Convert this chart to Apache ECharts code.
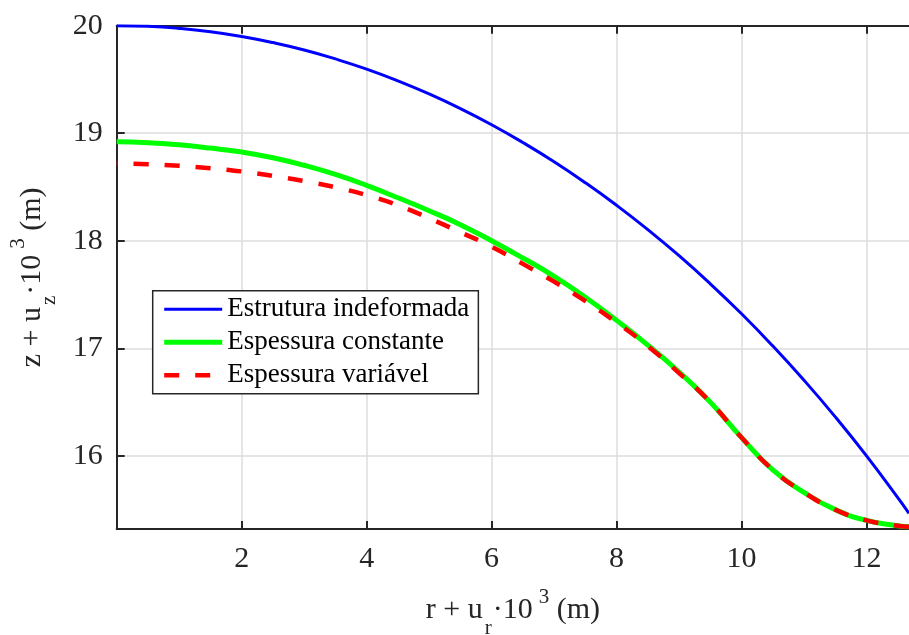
<!DOCTYPE html>
<html>
<head>
<meta charset="utf-8">
<script src="https://cdn.jsdelivr.net/npm/echarts@6/dist/echarts.min.js"></script>
<style>
  html, body { margin: 0; padding: 0; background: #ffffff; }
  #chart { width: 909px; height: 635px; }
</style>
</head>
<body>
<div id="chart"></div>
<script>
// Radial coordinate r + u_r·10^3 (m) of each sampled point
const radii = [0, 0.5, 1, 1.5, 2, 2.5, 3, 3.5, 4, 4.5, 5, 5.5, 6, 6.5, 7, 7.5, 8, 8.5, 9, 9.5, 10, 10.5, 11, 11.5, 12, 12.5, 12.68];

// Height z + u_z·10^3 (m) of each profile
const zUndeformed = [20.000, 19.994, 19.975, 19.944, 19.900, 19.843, 19.774, 19.691, 19.596, 19.487, 19.365, 19.229, 19.079, 18.914, 18.735, 18.540, 18.330, 18.104, 17.861, 17.600, 17.321, 17.022, 16.703, 16.363, 16.000, 15.612, 15.466];
const zConstant   = [18.920, 18.912, 18.892, 18.862, 18.825, 18.772, 18.702, 18.617, 18.515, 18.400, 18.280, 18.150, 18.000, 17.840, 17.670, 17.475, 17.260, 17.030, 16.780, 16.500, 16.170, 15.870, 15.660, 15.500, 15.400, 15.350, 15.340];
const zVariable   = [18.720, 18.712, 18.697, 18.675, 18.645, 18.603, 18.555, 18.497, 18.425, 18.330, 18.210, 18.080, 17.945, 17.785, 17.620, 17.440, 17.240, 17.020, 16.770, 16.500, 16.170, 15.870, 15.660, 15.500, 15.400, 15.350, 15.340];

const seriesNames = ['Estrutura indeformada', 'Espessura constante', 'Espessura variável'];
const xTicks = [2, 4, 6, 8, 10, 12];
const yTicks = [16, 17, 18, 19, 20];
const xRange = [0, 12.68];
const yRange = [15.32, 20];

const axisColor = '#262626';
const gridColor = '#dcdcdc';
const serif = 'Liberation Serif, Times New Roman, serif';

function toPairs(ys) {
  return radii.map((r, i) => [r, ys[i]]);
}

// Axis titles: main text, subscript and superscript sit in one 56px line box
const titleRich = {
  t:   { fontFamily: serif, fontSize: 30, color: axisColor, lineHeight: 56, verticalAlign: 'middle' },
  sub: { fontFamily: serif, fontSize: 21, color: axisColor, lineHeight: 21, verticalAlign: 'bottom', padding: [0, 1, 0, 2] },
  sup: { fontFamily: serif, fontSize: 21, color: axisColor, lineHeight: 21, verticalAlign: 'top', padding: [4, 0, 0, 6] }
};

const chart = echarts.init(document.getElementById('chart'), null, { renderer: 'canvas' });

const tickLabelStyle = { fontFamily: serif, fontSize: 30, color: axisColor };

chart.setOption({
  animation: false,
  backgroundColor: '#ffffff',
  grid: { left: 116.7, top: 25.7, right: 0, bottom: 106, containLabel: false, outerBoundsMode: 'none' },
  legend: {
    orient: 'vertical',
    left: 152.7,
    top: 290.7,
    padding: [5, 9, 5, 9],
    itemGap: 6,
    itemWidth: 58,
    itemHeight: 12,
    backgroundColor: '#ffffff',
    borderColor: axisColor,
    borderWidth: 1.5,
    borderRadius: 0,
    itemStyle: { opacity: 0 },
    lineStyle: { width: 'inherit', dashOffset: 0 },
    textStyle: { fontFamily: serif, fontSize: 27, lineHeight: 27, color: '#000000' },
    data: seriesNames
  },
  xAxis: [
    {
      type: 'value',
      position: 'bottom',
      min: xRange[0],
      max: xRange[1],
      name: '{t|r + u}{sub|r}{t|·10}{sup|3}{t| (m)}',
      nameLocation: 'middle',
      nameGap: 53.5,
      nameTextStyle: { rich: titleRich },
      axisLine: { show: true, onZero: false, lineStyle: { color: axisColor, width: 2 } },
      axisTick: { show: true, inside: true, length: 8, customValues: xTicks, lineStyle: { color: axisColor, width: 2 } },
      axisLabel: { show: true, margin: 15, customValues: xTicks, ...tickLabelStyle },
      splitLine: { show: true, lineStyle: { color: gridColor, width: 1.5 } }
    },
    {
      type: 'value',
      position: 'top',
      min: xRange[0],
      max: xRange[1],
      axisLine: { show: true, onZero: false, lineStyle: { color: axisColor, width: 2 } },
      axisTick: { show: true, inside: true, length: 8, customValues: xTicks, lineStyle: { color: axisColor, width: 2 } },
      axisLabel: { show: false },
      splitLine: { show: false }
    }
  ],
  yAxis: {
    type: 'value',
    position: 'left',
    min: yRange[0],
    max: yRange[1],
    name: '{t|z + u}{sub|z}{t|·10}{sup|3}{t| (m)}',
    nameLocation: 'middle',
    nameRotate: 90,
    nameGap: 57,
    nameTextStyle: { rich: titleRich },
    axisLine: { show: true, onZero: false, lineStyle: { color: axisColor, width: 2 } },
    axisTick: { show: true, inside: true, length: 8, customValues: yTicks, lineStyle: { color: axisColor, width: 2 } },
    axisLabel: { show: true, margin: 14, customValues: yTicks, ...tickLabelStyle },
    splitLine: { show: true, lineStyle: { color: gridColor, width: 1.5 } }
  },
  series: [
    {
      name: seriesNames[0],
      type: 'line',
      data: toPairs(zUndeformed),
      symbol: 'none',
      smooth: 0.5,
      clip: true,
      color: '#0000ff',
      lineStyle: { color: '#0000ff', width: 3 },
      z: 2
    },
    {
      name: seriesNames[1],
      type: 'line',
      data: toPairs(zConstant),
      symbol: 'none',
      smooth: 0.5,
      clip: true,
      color: '#00ff00',
      lineStyle: { color: '#00ff00', width: 5 },
      z: 3
    },
    {
      name: seriesNames[2],
      type: 'line',
      data: toPairs(zVariable),
      symbol: 'none',
      smooth: 0.5,
      clip: true,
      color: '#ff0000',
      lineStyle: { color: '#ff0000', width: 4.5, type: [15, 16], dashOffset: 14, cap: 'butt' },
      z: 4
    }
  ]
});
</script>
</body>
</html>
